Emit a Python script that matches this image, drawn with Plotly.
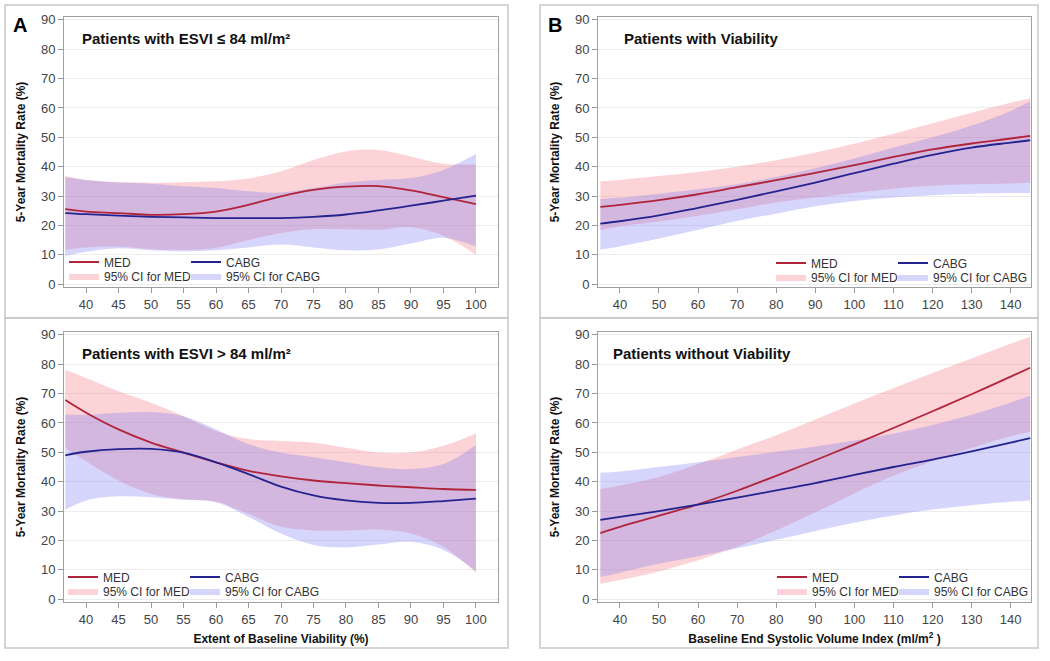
import plotly.graph_objects as go

W, H = 1050, 661

# x grids
x_viab = [36.8, 40, 45, 50, 55, 60, 65, 70, 75, 80, 85, 90, 95, 100]
x_esvi = [35, 40, 50, 60, 70, 80, 90, 100, 110, 120, 130, 140, 145]

# Panel A top: ESVI <= 84
a1_med = [25.5, 24.7, 24.2, 23.6, 23.8, 24.7, 27.0, 29.9, 32.1, 33.2, 33.4, 31.9, 29.6, 27.2]
a1_med_lo = [11.7, 12.5, 12.8, 11.9, 11.7, 12.3, 15.0, 17.4, 18.7, 18.7, 18.5, 19.4, 16.5, 10.0]
a1_med_hi = [36.8, 35.5, 34.8, 34.5, 34.7, 35.0, 36.0, 38.4, 42.3, 45.2, 45.7, 43.5, 41.0, 40.8]
a1_cabg = [24.2, 23.8, 23.3, 22.9, 22.7, 22.5, 22.5, 22.5, 22.9, 23.7, 25.1, 26.7, 28.4, 30.1]
a1_cabg_lo = [9.6, 11.0, 12.2, 11.5, 11.1, 11.5, 12.5, 13.5, 12.5, 11.5, 11.8, 13.8, 15.8, 12.8]
a1_cabg_hi = [36.4, 35.5, 34.6, 34.2, 33.3, 32.7, 31.6, 31.2, 32.7, 34.6, 35.5, 36.1, 38.9, 44.3]

# Panel A bottom: ESVI > 84
a2_med = [67.8, 63.5, 57.8, 53.3, 49.9, 46.6, 43.7, 41.8, 40.4, 39.5, 38.7, 38.1, 37.5, 37.2]
a2_med_lo = [51.5, 47.0, 40.4, 35.8, 34.0, 33.2, 29.0, 24.6, 23.4, 23.4, 23.7, 22.3, 17.8, 9.0]
a2_med_hi = [78.1, 75.3, 70.8, 66.9, 62.3, 57.3, 54.5, 53.9, 53.3, 51.6, 49.9, 49.9, 52.2, 56.4]
a2_cabg = [49.0, 50.2, 51.1, 51.2, 49.9, 46.6, 42.6, 38.3, 35.3, 33.6, 32.8, 32.8, 33.4, 34.2]
a2_cabg_lo = [30.4, 33.6, 35.0, 34.7, 33.8, 33.0, 28.0, 22.3, 18.4, 17.6, 18.6, 19.5, 16.7, 9.5]
a2_cabg_hi = [62.9, 62.8, 63.5, 63.7, 62.3, 57.8, 52.8, 49.9, 48.3, 46.6, 44.9, 44.3, 46.0, 52.5]

# Panel B top: with viability
b1_med = [26.3, 27.0, 28.6, 30.6, 33.0, 35.4, 37.9, 40.5, 43.3, 45.9, 47.9, 49.6, 50.5]
b1_med_lo = [18.3, 19.6, 21.3, 23.3, 25.5, 27.8, 29.5, 31.0, 32.5, 33.5, 34.0, 34.3, 34.5]
b1_med_hi = [35.0, 35.5, 36.8, 38.2, 40.0, 42.2, 44.8, 47.8, 51.2, 54.8, 58.4, 61.8, 63.2]
b1_cabg = [20.6, 21.4, 23.4, 26.0, 28.7, 31.6, 34.6, 37.8, 41.0, 44.0, 46.5, 48.2, 49.0]
b1_cabg_lo = [11.7, 12.8, 15.5, 18.5, 21.5, 24.0, 26.5, 28.3, 29.5, 30.3, 30.8, 31.0, 31.0]
b1_cabg_hi = [29.0, 29.4, 30.8, 32.3, 34.0, 36.5, 39.5, 42.8, 46.5, 50.0, 54.0, 59.0, 62.3]

# Panel B bottom: without viability
b2_med = [22.5, 24.6, 28.4, 32.3, 36.9, 42.0, 47.3, 52.7, 58.3, 64.0, 69.8, 75.8, 78.8]
b2_med_lo = [5.2, 6.5, 9.4, 13.2, 17.8, 23.4, 29.5, 36.0, 42.0, 47.0, 51.5, 55.5, 57.0]
b2_med_hi = [37.5, 38.7, 41.6, 46.0, 51.0, 55.8, 61.2, 66.6, 71.8, 77.0, 82.0, 87.0, 89.4]
b2_cabg = [27.0, 28.0, 30.0, 32.2, 34.6, 37.0, 39.5, 42.3, 45.0, 47.5, 50.3, 53.3, 54.8]
b2_cabg_lo = [7.5, 9.0, 12.0, 14.6, 17.3, 20.2, 23.2, 26.0, 28.5, 30.5, 32.0, 33.2, 33.6]
b2_cabg_hi = [43.0, 43.5, 45.0, 46.6, 48.4, 50.2, 52.0, 54.0, 56.3, 59.3, 62.8, 67.0, 69.3]

titles = ["Patients with ESVI ≤ 84 ml/m²", "Patients with ESVI > 84 ml/m²",
          "Patients with Viability", "Patients without Viability"]
y_title = "5-Year Mortality Rate (%)"
x_title_a = "Extent of Baseline Viability (%)"
x_title_b = "Baseline End Systolic Volume Index (ml/m<sup>2</sup> )"

MED_LINE = "#b0243a"
CABG_LINE = "#23238f"
MED_FILL = "rgba(245,110,120,0.30)"
CABG_FILL = "rgba(120,120,245,0.30)"
FONT = "Arial, Liberation Sans, sans-serif"


def pxx(v):
    return v / W


def pyy(v):
    return 1 - v / H


# (axis suffix, x data, series, plot box in px [l, r, t, b], legend text x cols, legend rows y, title x)
panels = [
    ("", x_viab, (a1_med, a1_med_lo, a1_med_hi, a1_cabg, a1_cabg_lo, a1_cabg_hi),
     (64, 498, 17, 287), (100, 222), (262, 276), 80),
    ("2", x_viab, (a2_med, a2_med_lo, a2_med_hi, a2_cabg, a2_cabg_lo, a2_cabg_hi),
     (64, 498, 332, 602), (99, 221), (577, 591), 80),
    ("3", x_esvi, (b1_med, b1_med_lo, b1_med_hi, b1_cabg, b1_cabg_lo, b1_cabg_hi),
     (598, 1031, 17, 287), (807, 929), (263, 277), 622),
    ("4", x_esvi, (b2_med, b2_med_lo, b2_med_hi, b2_cabg, b2_cabg_lo, b2_cabg_hi),
     (598, 1031, 332, 602), (808, 930), (577, 591), 611),
]

fig = go.Figure()
layout = {}
annotations = []

for i, (sfx, xs, ser, box, lgx, lgy, tx) in enumerate(panels):
    med, med_lo, med_hi, cabg, cabg_lo, cabg_hi = ser
    xa, ya = "x" + sfx, "y" + sfx
    # one legend per entry: MED, CABG, CI MED, CI CABG
    legs = []
    for k in range(4):
        n = 4 * i + k + 1
        legs.append("legend" if n == 1 else "legend%d" % n)

    # confidence bands
    fig.add_trace(go.Scatter(x=xs, y=med_lo, xaxis=xa, yaxis=ya, mode="lines",
                             line=dict(width=0, shape="spline"), showlegend=False,
                             hoverinfo="skip"))
    fig.add_trace(go.Scatter(x=xs, y=med_hi, xaxis=xa, yaxis=ya, mode="lines",
                             line=dict(width=0, shape="spline"), fill="tonexty",
                             fillcolor=MED_FILL, name="95% CI for MED", legend=legs[2]))
    fig.add_trace(go.Scatter(x=xs, y=cabg_lo, xaxis=xa, yaxis=ya, mode="lines",
                             line=dict(width=0, shape="spline"), showlegend=False,
                             hoverinfo="skip"))
    fig.add_trace(go.Scatter(x=xs, y=cabg_hi, xaxis=xa, yaxis=ya, mode="lines",
                             line=dict(width=0, shape="spline"), fill="tonexty",
                             fillcolor=CABG_FILL, name="95% CI for CABG", legend=legs[3]))
    # estimates
    fig.add_trace(go.Scatter(x=xs, y=med, xaxis=xa, yaxis=ya, mode="lines",
                             line=dict(color=MED_LINE, width=1.8, shape="spline"),
                             name="MED", legend=legs[0]))
    fig.add_trace(go.Scatter(x=xs, y=cabg, xaxis=xa, yaxis=ya, mode="lines",
                             line=dict(color=CABG_LINE, width=1.8, shape="spline"),
                             name="CABG", legend=legs[1]))

    l, r, t, b = box
    is_a = i < 2
    bottom = i in (1, 3)
    xaxis = dict(
        domain=[pxx(l), pxx(r)], anchor=ya,
        range=[36.6, 103.4] if is_a else [34.4, 145.2],
        tickvals=list(range(40, 101, 5)) if is_a else list(range(40, 141, 10)),
        ticks="outside", ticklen=5, tickcolor="#999", showgrid=False, zeroline=False,
        showline=True, linecolor="#a0a0a0", mirror=True,
        tickfont=dict(size=13, color="#444", family=FONT), automargin=False,
    )
    if bottom:
        xaxis["title"] = dict(text=x_title_a if is_a else x_title_b, standoff=9,
                              font=dict(size=12, color="#111", family=FONT, weight="bold"))
    yaxis = dict(
        domain=[pyy(b), pyy(t)], anchor=xa, range=[-1, 91],
        tickvals=list(range(0, 91, 10)),
        ticks="outside", ticklen=5, tickcolor="#999",
        showgrid=True, gridcolor="#ececec", zeroline=False,
        showline=True, linecolor="#a0a0a0", mirror=True,
        tickfont=dict(size=13, color="#444", family=FONT), automargin=False,
        title=dict(text=y_title, standoff=12,
                   font=dict(size=12, color="#111", family=FONT, weight="bold")),
    )
    layout["xaxis" + sfx] = xaxis
    layout["yaxis" + sfx] = yaxis

    # 2 x 2 legend grid
    for k, name in enumerate(legs):
        layout[name] = dict(
            orientation="h", x=pxx(lgx[k % 2] - 36), xanchor="left",
            y=pyy(lgy[k // 2]), yanchor="middle",
            xref="paper", yref="paper", bgcolor="rgba(0,0,0,0)", borderwidth=0,
            itemwidth=30, font=dict(size=12, color="#333", family=FONT),
            itemclick=False,
        )

    # panel title inside plot
    annotations.append(dict(
        text=titles[i], x=pxx(tx), y=pyy(t + 21), xref="paper", yref="paper",
        xanchor="left", yanchor="middle", showarrow=False,
        font=dict(size=15, color="#111", family=FONT, weight="bold")))

# panel letters
for letter, lx in (("A", 20), ("B", 555)):
    annotations.append(dict(text=letter, x=pxx(lx), y=pyy(25), xref="paper", yref="paper",
                            xanchor="center", yanchor="middle", showarrow=False,
                            font=dict(size=20, color="#000", family=FONT, weight="bold")))

# light outer boxes around each panel
shapes = []
for x0, x1 in ((5, 508), (540, 1038)):
    for y0, y1 in ((5, 318), (318, 648)):
        shapes.append(dict(type="rect", xref="paper", yref="paper",
                           x0=pxx(x0), x1=pxx(x1), y0=pyy(y0), y1=pyy(y1),
                           line=dict(color="#c8c8c8", width=1.5), layer="below"))

fig.update_layout(
    width=W, height=H,
    margin=dict(l=0, r=0, t=0, b=0),
    paper_bgcolor="white", plot_bgcolor="white",
    font=dict(family=FONT),
    annotations=annotations, shapes=shapes,
    **layout,
)

# drop the default page margin so the figure sits at the window origin
fig.write_html("out.html", config={"displayModeBar": False},
               post_script="document.body.style.margin='0';")
